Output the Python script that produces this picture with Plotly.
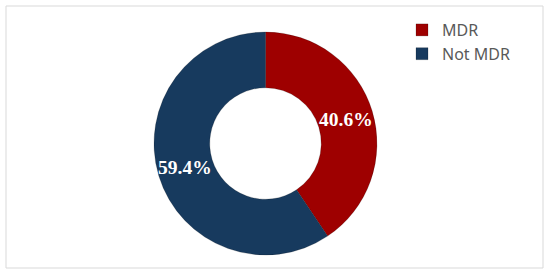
import math
import plotly.graph_objects as go

categories = ["MDR", "Not MDR"]
values = [40.6, 59.4]
colors = ["#9E0000", "#173A5E"]
label_texts = ["40.6%", "59.4%"]

HOLE = 0.5
dom_x = [154 / 550, 377 / 550]
dom_y = [20 / 275, 243 / 275]

fig = go.Figure()
fig.add_trace(go.Pie(
    labels=categories,
    values=values,
    hole=HOLE,
    sort=False,
    direction="clockwise",
    rotation=0,
    marker=dict(colors=colors, line=dict(color="rgba(0,0,0,0.18)", width=1)),
    textinfo="none",
    hoverinfo="label+percent",
    domain=dict(x=dom_x, y=dom_y),
))

# slice labels: placed at each slice's mid-angle (derived from the values),
# in the middle of the ring, using a hidden unit axis that overlays the pie
total = sum(values)
acc = 0.0
r_mid = (1 + HOLE) / 2
annotations = []
for v, txt in zip(values, label_texts):
    ang = math.radians((acc + v / 2) / total * 360)
    acc += v
    annotations.append(dict(
        x=r_mid * math.sin(ang), y=r_mid * math.cos(ang), xref="x", yref="y",
        text=txt, showarrow=False,
        font=dict(family="Liberation Serif", size=19.5, color="white", weight="bold"),
    ))

fig.update_layout(
    width=550, height=275,
    margin=dict(l=0, r=0, t=0, b=0),
    paper_bgcolor="white", plot_bgcolor="rgba(0,0,0,0)",
    xaxis=dict(domain=dom_x, range=[-1, 1], visible=False, fixedrange=True),
    yaxis=dict(domain=dom_y, range=[-1, 1], visible=False, fixedrange=True),
    annotations=annotations,
    showlegend=True,
    legend=dict(x=402 / 550, y=1 - 13 / 275, xanchor="left", yanchor="top",
                font=dict(family="Noto Sans", size=16, color="#595959"),
                bgcolor="rgba(0,0,0,0)", tracegroupgap=0),
    shapes=[dict(type="rect", xref="paper", yref="paper",
                 x0=6 / 550, x1=543 / 550, y0=1 - 268 / 275, y1=1 - 6 / 275,
                 line=dict(color="#D9D9D9", width=1))],
)

fig.write_html("out.html", config={"displayModeBar": False},
               post_script="document.body.style.margin='0';")
